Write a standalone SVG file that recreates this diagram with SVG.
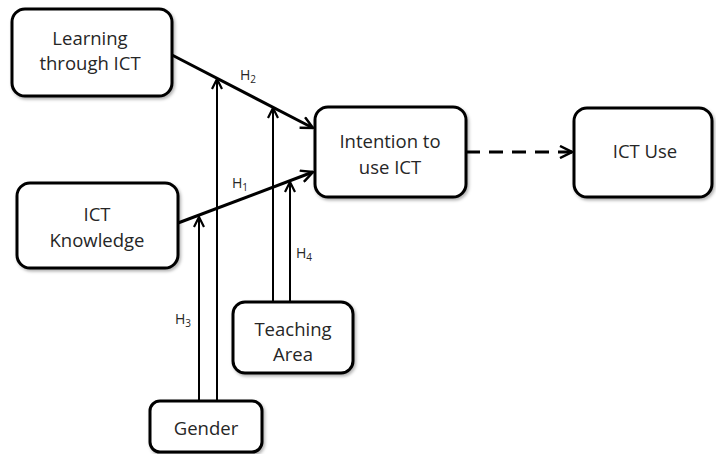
<svg xmlns="http://www.w3.org/2000/svg" width="716" height="454" viewBox="0 0 716 454">
<style>
.box{fill:#fff;stroke:#000;stroke-width:3;filter:url(#sh)}
.t{font-family:"Open Sans","Liberation Sans",sans-serif;font-size:18.5px;fill:#262626;text-anchor:middle}
.h{font-family:"Open Sans","Liberation Sans",sans-serif;font-size:14px;fill:#262626}
.s{font-size:10px}
.main{fill:none;stroke:#000;stroke-width:3}
.mod{fill:none;stroke:#000;stroke-width:2}
</style>
<defs>
<filter id="sh" x="-10%" y="-10%" width="125%" height="130%">
<feDropShadow dx="1.5" dy="2" stdDeviation="1.5" flood-color="#000" flood-opacity="0.3"/>
</filter>
<marker id="a" viewBox="0 0 12 12" refX="11" refY="6" markerWidth="12" markerHeight="12" markerUnits="userSpaceOnUse" orient="auto">
<path d="M1,1 L11,6 L1,11" fill="none" stroke="#000" stroke-width="2.2"/>
</marker>
<marker id="b" viewBox="0 0 14 14" refX="13" refY="7" markerWidth="14" markerHeight="14" markerUnits="userSpaceOnUse" orient="auto">
<path d="M1,1 L13,7 L1,13" fill="none" stroke="#000" stroke-width="2.5"/>
</marker>
</defs>
<rect width="716" height="454" fill="#fff"/>
<g id="connectors">
<line class="main" x1="172" y1="55" x2="313" y2="128" marker-end="url(#b)"/>
<line class="main" x1="178" y1="223" x2="313" y2="172" marker-end="url(#b)"/>
<line class="main" x1="466" y1="152" x2="572" y2="152" stroke-dasharray="14,9" marker-end="url(#b)"/>
<line class="mod" x1="199" y1="401" x2="199" y2="217" marker-end="url(#a)"/>
<line class="mod" x1="217" y1="401" x2="217" y2="79" marker-end="url(#a)"/>
<line class="mod" x1="273" y1="302" x2="273" y2="108" marker-end="url(#a)"/>
<line class="mod" x1="290" y1="302" x2="290" y2="182" marker-end="url(#a)"/>
<text class="h" x="240" y="80">H<tspan class="s" dy="3">2</tspan></text>
<text class="h" x="232" y="188">H<tspan class="s" dy="3">1</tspan></text>
<text class="h" x="296" y="258">H<tspan class="s" dy="3">4</tspan></text>
<text class="h" x="175" y="324">H<tspan class="s" dy="3">3</tspan></text>
</g>
<g id="learning">
<rect class="box" x="12" y="9" width="160" height="87" rx="13"/>
<text class="t" x="90" y="45">Learning</text>
<text class="t" x="90" y="70">through ICT</text>
</g>
<g id="knowledge">
<rect class="box" x="17" y="183" width="161" height="85" rx="13"/>
<text class="t" x="97" y="221">ICT</text>
<text class="t" x="97" y="247">Knowledge</text>
</g>
<g id="intention">
<rect class="box" x="315" y="107" width="151" height="90" rx="13"/>
<text class="t" x="390" y="148">Intention to</text>
<text class="t" x="390" y="174">use ICT</text>
</g>
<g id="ictuse">
<rect class="box" x="574" y="108" width="138" height="89" rx="13"/>
<text class="t" x="645" y="158">ICT Use</text>
</g>
<g id="teaching">
<rect class="box" x="233" y="302" width="120" height="71" rx="12"/>
<text class="t" x="293" y="336">Teaching</text>
<text class="t" x="293" y="361">Area</text>
</g>
<g id="gender">
<rect class="box" x="150" y="401" width="112" height="51" rx="10"/>
<text class="t" x="206" y="435">Gender</text>
</g>
</svg>
